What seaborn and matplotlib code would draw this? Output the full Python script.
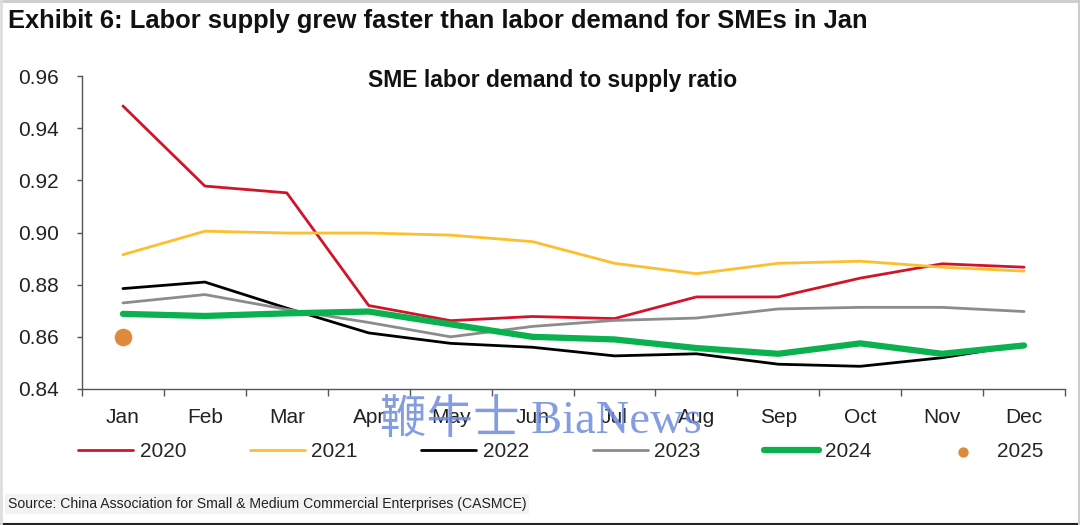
import matplotlib
matplotlib.use("Agg")
import matplotlib.pyplot as plt
import seaborn as sns
import pandas as pd

months = ["Jan", "Feb", "Mar", "Apr", "May", "Jun", "Jul", "Aug", "Sep", "Oct", "Nov", "Dec"]
y2020 = [0.9485, 0.9178, 0.9152, 0.872, 0.8662, 0.8678, 0.867, 0.8753, 0.8753, 0.8825, 0.888, 0.8867]
y2021 = [0.8915, 0.9005, 0.8998, 0.8998, 0.899, 0.8965, 0.8882, 0.8842, 0.8882, 0.889, 0.8867, 0.8852]
y2022 = [0.8785, 0.881, 0.871, 0.8615, 0.8575, 0.856, 0.8527, 0.8535, 0.8495, 0.8487, 0.852, 0.857]
y2023 = [0.873, 0.8762, 0.8705, 0.8655, 0.86, 0.864, 0.8663, 0.8672, 0.8707, 0.8713, 0.8713, 0.8697]
y2024 = [0.8688, 0.868, 0.869, 0.8697, 0.8648, 0.86, 0.859, 0.8557, 0.8535, 0.8575, 0.8535, 0.8567]
y2025 = [0.86]
y_ticks = [0.84, 0.86, 0.88, 0.90, 0.92, 0.94, 0.96]

sns.set_theme(style="white")
plt.rcParams["font.family"] = ["Liberation Sans", "Noto Sans CJK SC", "DejaVu Sans"]

fig = plt.figure(figsize=(10.8, 5.25), dpi=100)
ax = fig.add_axes([82 / 1080, 1 - 389 / 525, 983 / 1080, 313 / 525])

styles = [("2020", y2020, "#d2142a", 2),
          ("2021", y2021, "#fdbf2d", 2),
          ("2022", y2022, "#000000", 2),
          ("2023", y2023, "#8c8c8c", 2),
          ("2024", y2024, "#0bb04f", 4.5)]
for name, vals, color, lw in styles:
    df = pd.DataFrame({"month": months, "v": vals})
    sns.lineplot(data=df, x="month", y="v", color=color, linewidth=lw, ax=ax, label=name, sort=False)
df25 = pd.DataFrame({"month": months[:1], "v": y2025})
sns.scatterplot(data=df25, x="month", y="v", color="#dd8a3c", s=190, ax=ax, label="2025", zorder=5)

ax.set_xlim(-0.5, 11.5)
ax.set_ylim(0.84, 0.96)
ax.set_yticks(y_ticks)
ax.set_yticklabels(["%.2f" % t for t in y_ticks])
# ticks sit between the months
ax.set_xticks([i + 0.5 for i in range(-1, 12)], minor=True)
ax.set_xlabel("")
ax.set_ylabel("")
ax.tick_params(axis="both", labelsize=15, labelcolor="#222222")
ax.tick_params(axis="y", left=True, length=3.5, width=1, color="#555555", pad=13)
ax.tick_params(axis="x", which="major", bottom=False, length=0, pad=14)
ax.tick_params(axis="x", which="minor", bottom=True, length=5, width=1, color="#555555")
for s in ["top", "right"]:
    ax.spines[s].set_visible(False)
for s in ["left", "bottom"]:
    ax.spines[s].set_color("#555555")
    ax.spines[s].set_linewidth(1)

h, l = ax.get_legend_handles_labels()
ax.legend(h, l, ncol=6, loc="center", bbox_to_anchor=(0.487, -0.2), frameon=False, fontsize=15,
          columnspacing=3.06, handlelength=2.64, handletextpad=0.3, markerscale=0.62,
          borderpad=0, borderaxespad=0)

fig.text(553 / 1080, 1 - 81 / 525, "SME labor demand to supply ratio", fontsize=16.5, fontweight="bold", ha="center", va="center", color="#111111")
fig.text(8 / 1080, 1 - 21 / 525, "Exhibit 6: Labor supply grew faster than labor demand for SMEs in Jan", fontsize=18.4, fontweight="bold", ha="left", va="center", color="#111111")
fig.text(8 / 1080, 1 - 504 / 525, "Source: China Association for Small & Medium Commercial Enterprises (CASMCE)", fontsize=10.1, ha="left", va="center", color="#222222",
         bbox=dict(facecolor="#f3f3f3", edgecolor="none", pad=2))
fig.text(541 / 1080, 1 - 422 / 525, "鞭牛士 BiaNews", fontsize=33.5, family=["Liberation Serif", "Noto Sans CJK SC"], ha="center", va="center", color="#6f8cdc", alpha=0.85, zorder=10)

fig.add_artist(plt.Line2D([0, 1], [1 - 523.5 / 525, 1 - 523.5 / 525], color="#222222", lw=1.5))
fig.add_artist(plt.Line2D([0, 1], [1 - 1 / 525, 1 - 1 / 525], color="#cccccc", lw=2))
fig.add_artist(plt.Line2D([1 / 1080, 1 / 1080], [0, 1], color="#dddddd", lw=2))
fig.add_artist(plt.Line2D([1079 / 1080, 1079 / 1080], [0, 1], color="#cccccc", lw=1.5))

fig.savefig("out.png", dpi=100)
